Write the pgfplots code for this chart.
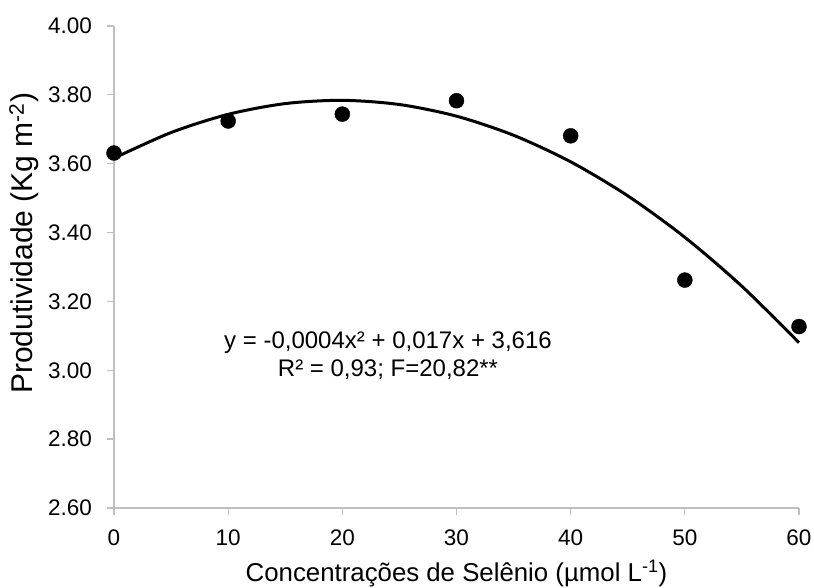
\documentclass[border=0pt]{standalone}
\usepackage{pgfplots}
\pgfplotsset{compat=1.18}
\usepackage{fontspec}
\setmainfont{Liberation Sans}
\definecolor{axgray}{RGB}{191,191,191}
\begin{document}
\begin{tikzpicture}
\begin{axis}[
  name=ax,
  scale only axis,
  width=685pt, height=482pt,
  xmin=0, xmax=60, ymin=2.6, ymax=4.0,
  xtick={0,10,...,60},
  ytick={2.6,2.8,3.0,3.2,3.4,3.6,3.8,4.0},
  axis lines=left,
  axis line style={-, axgray, line width=1.3pt},
  tick style={axgray, line width=1.3pt},
  tick align=outside,
  major tick length=7pt,
  clip=false,
  /pgf/number format/assume math mode=true,
  yticklabel style={font=\fontsize{22.5}{26}\selectfont, anchor=east, inner sep=0pt, xshift=-15pt,
     /pgf/number format/.cd, fixed, fixed zerofill, precision=2},
  xticklabel style={font=\fontsize{22.5}{26}\selectfont, anchor=north, inner sep=0pt, yshift=-15pt,
     /pgf/number format/.cd, fixed, precision=0},
  ylabel={Produtividade (Kg m\textsuperscript{-2})},
  xlabel={Concentrações de Selênio (µmol L\textsuperscript{-1})},
  xlabel style={font=\fontsize{25.8}{30}\selectfont, at={(rel axis cs:0.5,0)}, anchor=base, yshift=-74pt},
  ylabel style={font=\fontsize{30}{34}\selectfont, at={(rel axis cs:0,0.549)}, anchor=base, yshift=81pt},
]
\addplot[black, line width=3pt, smooth] coordinates {
(0,3.616) (5,3.6905) (10,3.7434) (15,3.7746) (20,3.7841) (25,3.7719)
(30,3.7381) (35,3.6826) (40,3.6055) (45,3.5067) (50,3.3862) (55,3.2440) (60,3.0802)
};
\addplot[only marks, mark=*, mark size=7.5pt, black] coordinates {
(0,3.631) (10,3.724) (20,3.744) (30,3.783) (40,3.681) (50,3.262) (60,3.127)
};
\node[align=center, font=\fontsize{24}{28}\selectfont] at (axis cs:24,3.042)
  {y = -0,0004x² + 0,017x + 3,616\\R² = 0,93; F=20,82**};
\end{axis}
\pgfresetboundingbox
\path ([shift={(-114pt,-80pt)}]ax.south west) rectangle ([shift={(15pt,26pt)}]ax.north east);
\end{tikzpicture}
\end{document}
